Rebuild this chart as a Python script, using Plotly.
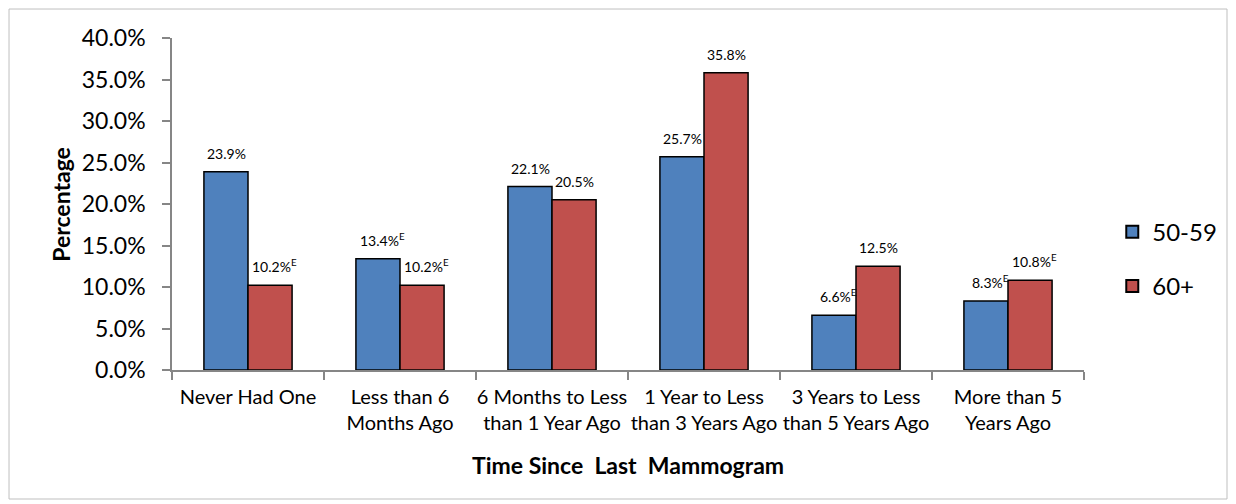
import plotly.graph_objects as go

categories = ["Never Had One", "Less than 6<br>Months Ago", "6 Months to Less<br>than 1 Year Ago",
              "1 Year to Less<br>than 3 Years Ago", "3 Years to Less<br>than 5 Years Ago",
              "More than 5<br>Years Ago"]
series_names = ["50-59", "60+"]
values_5059 = [23.9, 13.4, 22.1, 25.7, 6.6, 8.3]
values_60 = [10.2, 10.2, 20.5, 35.8, 12.5, 10.8]
labels_5059 = ["23.9%", "13.4%<sup>E</sup>", "22.1%", "25.7%", "6.6%<sup>E</sup>", "8.3%<sup>E</sup>"]
labels_60 = ["10.2%<sup>E</sup>", "10.2%<sup>E</sup>", "20.5%", "35.8%", "12.5%", "10.8%<sup>E</sup>"]
y_ticks = [0, 5, 10, 15, 20, 25, 30, 35, 40]
y_tick_text = ["0.0%", "5.0%", "10.0%", "15.0%", "20.0%", "25.0%", "30.0%", "35.0%", "40.0%"]

colors = ["#4F81BD", "#C0504D"]
FONT = "Lato, Carlito, Calibri, sans-serif"

fig = go.Figure()
for name, vals, col, grp in [(series_names[0], values_5059, colors[0], "a"),
                             (series_names[1], values_60, colors[1], "b")]:
    fig.add_trace(go.Bar(x=categories, y=vals, name=name, legendgroup=grp,
                         marker=dict(color=col, line=dict(color="black", width=1.5))))

annotations = []
for labs, vals, shift in [(labels_5059, values_5059, -22), (labels_60, values_60, 22)]:
    for c, v, t in zip(categories, vals, labs):
        annotations.append(dict(x=c, y=v, xref="x", yref="y", text=t, showarrow=False,
                                yanchor="bottom", xshift=shift + (4 if "sup" in t else 0), yshift=8,
                                font=dict(family=FONT, size=14, color="black")))
annotations.append(dict(x=0.5, y=-0.285, xref="paper", yref="paper", text="<b>Time Since  Last  Mammogram</b>",
                        showarrow=False, yanchor="middle", font=dict(family=FONT, size=23, color="black")))
annotations.append(dict(x=-0.122, y=0.5, xref="paper", yref="paper", text="<b>Percentage</b>", textangle=-90,
                        showarrow=False, xanchor="center", font=dict(family=FONT, size=23, color="black")))

fig.update_layout(
    width=1228, height=496,
    margin=dict(l=164, r=152, t=30, b=134, autoexpand=False),
    paper_bgcolor="white", plot_bgcolor="white",
    barmode="group", bargap=0.42, bargroupgap=0,
    font=dict(family=FONT, color="black"),
    showlegend=True,
    legend=dict(x=1.031, y=0.334, xanchor="left", yanchor="middle", font=dict(size=24, family=FONT),
                tracegroupgap=20, itemsizing="constant", bgcolor="rgba(0,0,0,0)"),
    annotations=annotations,
    shapes=[dict(type="rect", xref="paper", yref="paper", x0=-0.1787, x1=1.1568, y0=-0.3886, y1=1.0873,
                 line=dict(color="#BFBFBF", width=1), fillcolor="rgba(0,0,0,0)", layer="below")],
)
fig.update_xaxes(showline=True, linecolor="#868686", linewidth=1.5, ticks="outside", tickson="boundaries",
                 ticklen=8, tickcolor="#868686", tickwidth=1.5, tickfont=dict(size=20, family=FONT),
                 showgrid=False, ticklabelstandoff=8, tickangle=0, automargin=False)
fig.update_yaxes(range=[0, 40], tickvals=y_ticks, ticktext=y_tick_text, showline=True, linecolor="#868686",
                 linewidth=1.5, ticks="outside", ticklen=8, tickcolor="#868686", tickwidth=1.5,
                 tickfont=dict(size=23, family=FONT), showgrid=False, zeroline=False, ticklabelstandoff=12,
                 automargin=False)

fig.write_html("out.html")
